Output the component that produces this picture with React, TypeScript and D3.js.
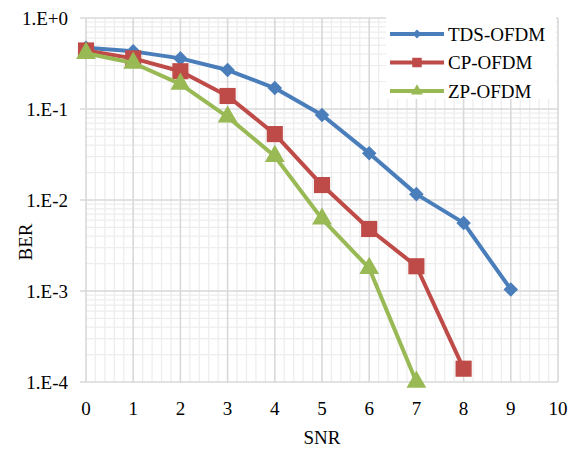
import React from 'react';
import * as d3 from 'd3';

const snr = [0, 1, 2, 3, 4, 5, 6, 7, 8, 9];
const tdsBer = [0.47, 0.43, 0.36, 0.268, 0.17, 0.086, 0.0327, 0.0116, 0.0056, 0.00104];
const cpBer = [0.44, 0.36, 0.26, 0.139, 0.053, 0.0146, 0.0048, 0.00187, 0.00014];
const zpBer = [0.41, 0.32, 0.188, 0.082, 0.0303, 0.0062, 0.00178, 0.0001];
const seriesNames = ['TDS-OFDM', 'CP-OFDM', 'ZP-OFDM'];
const seriesColors = ['#4a7ebb', '#be4b48', '#98b954'];
const xTicks = [0, 1, 2, 3, 4, 5, 6, 7, 8, 9, 10];
const yTicks = [1, 0.1, 0.01, 0.001, 0.0001];
const yTickLabels = ['1.E+0', '1.E-1', '1.E-2', '1.E-3', '1.E-4'];

const margin = { top: 18, right: 18, bottom: 68, left: 86 };
const W = 576;
const H = 450;

const App = () => {
  const x = d3.scaleLinear().domain([0, 10]).range([margin.left, W - margin.right]);
  const y = d3.scaleLog().domain([1e-4, 1]).range([H - margin.bottom, margin.top]);

  const series = [
    { name: seriesNames[0], color: seriesColors[0], values: tdsBer, shape: d3.symbolDiamond2 },
    { name: seriesNames[1], color: seriesColors[1], values: cpBer, shape: d3.symbolSquare },
    { name: seriesNames[2], color: seriesColors[2], values: zpBer, shape: d3.symbolTriangle },
  ];
  const markerSize = [135, 260, 170];
  const legendSize = [50, 90, 60];

  const line = d3.line<number>().x((_, i) => x(snr[i])).y((d) => y(d));

  // minor gridlines
  const minorX = d3.range(0, 10.001, 0.2).filter((v) => Math.abs(v - Math.round(v)) > 1e-6);
  const minorY: number[] = [];
  for (let e = -4; e < 0; e++) for (let m = 2; m <= 9; m++) minorY.push(m * Math.pow(10, e));

  const font = '"Liberation Serif", "Times New Roman", serif';
  const x0 = x(0);
  const x1 = x(10);
  const yTop = y(1);
  const yBot = y(1e-4);

  return (
    <svg width={W} height={H} style={{ position: 'absolute', left: 0, top: 0, background: '#fff' }}>
      <g>
        {minorX.map((v) => (
          <line key={'mx' + v} x1={x(v)} x2={x(v)} y1={yTop} y2={yBot} stroke="#ededed" strokeWidth={1.3} />
        ))}
        {minorY.map((v) => (
          <line key={'my' + v} x1={x0} x2={x1} y1={y(v)} y2={y(v)} stroke="#ededed" strokeWidth={1.3} />
        ))}
        {xTicks.map((v) => (
          <line key={'gx' + v} x1={x(v)} x2={x(v)} y1={yTop} y2={yBot} stroke="#d9d9d9" strokeWidth={1.6} />
        ))}
        {yTicks.map((v) => (
          <line key={'gy' + v} x1={x0 - 6} x2={x1} y1={y(v)} y2={y(v)} stroke="#d9d9d9" strokeWidth={1.6} />
        ))}
      </g>
      <g fontFamily={font} fontSize={19} fill="#000">
        {yTicks.map((v, i) => (
          <text key={'yl' + v} x={x0 - 18} y={y(v)} dy="0.35em" textAnchor="end">
            {yTickLabels[i]}
          </text>
        ))}
        {xTicks.map((v) => (
          <text key={'xl' + v} x={x(v)} y={yBot + 33} textAnchor="middle">
            {v}
          </text>
        ))}
        <text x={(x0 + x1) / 2} y={H - 6} textAnchor="middle">SNR</text>
        <text transform="translate(32, 242) rotate(-90)" textAnchor="middle">BER</text>
      </g>
      <g>
        {series.map((s, si) => (
          <g key={s.name}>
            <path d={line(s.values) || ''} fill="none" stroke={s.color} strokeWidth={4} strokeLinejoin="round" />
            {s.values.map((v, i) => (
              <path
                key={i}
                d={d3.symbol().type(s.shape).size(markerSize[si])() || ''}
                transform={`translate(${x(snr[i])},${y(v)})`}
                fill={s.color}
              />
            ))}
          </g>
        ))}
      </g>
      <g>
        <rect x={386} y={16} width={170} height={83} fill="#fff" />
        {series.map((s, i) => {
          const ly = 34 + i * 28.5;
          return (
            <g key={'lg' + s.name}>
              <line x1={390} x2={444} y1={ly} y2={ly} stroke={s.color} strokeWidth={4} />
              <path
                d={d3.symbol().type(s.shape).size(legendSize[i])() || ''}
                transform={`translate(417,${ly})`}
                fill={s.color}
              />
              <text x={448} y={ly} dy="0.35em" fontFamily={font} fontSize={19} fill="#000">
                {s.name}
              </text>
            </g>
          );
        })}
      </g>
    </svg>
  );
};

export default App;
